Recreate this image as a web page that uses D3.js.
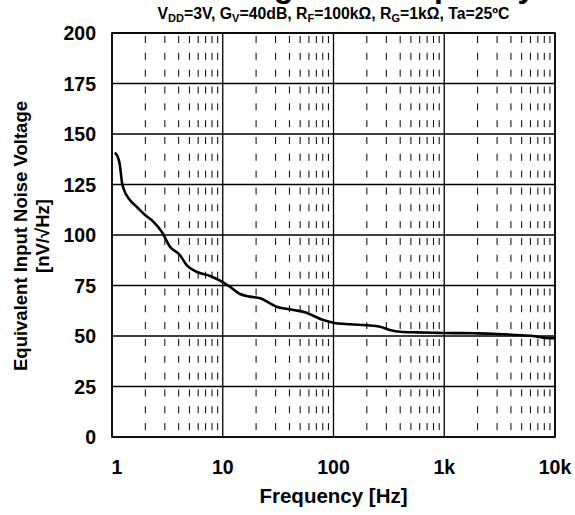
<!DOCTYPE html>
<html>
<head>
<meta charset="utf-8">
<script src="https://cdn.jsdelivr.net/npm/d3@7"></script>
<style>
body { margin: 0; background: white; }
text { font-family: "Liberation Sans", Arial, sans-serif; font-weight: bold; }
</style>
</head>
<body>
<div id="container"></div>
<script>
// curve
let freq = [1.06, 1.12, 1.17, 1.2, 1.23, 1.27, 1.45, 1.67, 1.99, 2.36, 2.81, 3.34, 4.1, 4.72, 5.8, 7.68, 9.45,
    11.6, 14.3, 17.6, 21.7, 30.7, 43.4, 55, 80.9, 100, 141, 199, 263, 324, 399, 563, 794, 1000, 1500, 2000, 2785, 4470, 6300, 7800, 10000]
let noise = [140.7, 139, 135.5, 131, 126, 123.1, 117.3, 114, 109.9, 106.6, 101.6, 94.2, 90.1, 85.1, 81.8, 79.7, 77.4,
    74.4, 70.8, 69.5, 68.7, 64.5, 62.9, 61.8, 57.9, 56.6, 55.8, 55.3, 54.6, 53, 52.1, 51.8, 51.6, 51.5, 51.4, 51.3, 51.1, 50.5, 50, 49.2, 48.9]

let xTicks = [1, 10, 100, 1000, 10000]
let xTickLabels = ["1", "10", "100", "1k", "10k"]
let yTicks = [0, 25, 50, 75, 100, 125, 150, 175, 200]

let W = 575, H = 515
let plotL = 112, plotR = 555, plotT = 33, plotB = 437

let svg = d3.select("#container").append("svg")
    .attr("width", W)
    .attr("height", H)

let x = d3.scaleLog().domain([1, 10000]).range([plotL, plotR])
let y = d3.scaleLinear().domain([0, 200]).range([plotB, plotT])

// minor verticals, dashed
let minors = []
for (let d = 1; d < 10000; d *= 10) {
    for (let k = 2; k <= 9; k++) minors.push(k * d)
}
svg.append("g").selectAll("line").data(minors).enter().append("line")
    .attr("x1", d => x(d)).attr("x2", d => x(d))
    .attr("y1", plotT).attr("y2", plotB)
    .attr("stroke", "black")
    .attr("stroke-width", 1)
    .attr("stroke-dasharray", "7,9.83")
    .attr("stroke-dashoffset", -3)

// decade lines
svg.append("g").selectAll("line").data(xTicks).enter().append("line")
    .attr("x1", d => x(d)).attr("x2", d => x(d))
    .attr("y1", plotT).attr("y2", plotB)
    .attr("stroke", "black")
    .attr("stroke-width", 1.3)

// horizontal grid
svg.append("g").selectAll("line").data(yTicks).enter().append("line")
    .attr("x1", plotL).attr("x2", plotR)
    .attr("y1", d => y(d)).attr("y2", d => y(d))
    .attr("stroke", "black")
    .attr("stroke-width", 1.3)

svg.append("rect")
    .attr("x", plotL).attr("y", plotT)
    .attr("width", plotR - plotL).attr("height", plotB - plotT)
    .attr("fill", "none")
    .attr("stroke", "black")
    .attr("stroke-width", 1.6)

// curve
let line = d3.line()
    .x((d, i) => x(freq[i]))
    .y(d => y(d))
    .curve(d3.curveMonotoneX)
svg.append("path")
    .attr("d", line(noise))
    .attr("fill", "none")
    .attr("stroke", "black")
    .attr("stroke-width", 2.6)

// tick labels
svg.append("g").selectAll("text").data(yTicks).enter().append("text")
    .attr("x", 96)
    .attr("y", d => y(d))
    .attr("dy", "0.36em")
    .attr("text-anchor", "end")
    .attr("font-size", 19.5)
    .text(d => d)

svg.append("g").selectAll("text").data(xTicks).enter().append("text")
    .attr("x", (d, i) => x(d) + (i == 0 ? 5 : 0))
    .attr("y", 474)
    .attr("text-anchor", "middle")
    .attr("font-size", 19.5)
    .text((d, i) => xTickLabels[i])

svg.append("text")
    .attr("x", (plotL + plotR) / 2)
    .attr("y", 503)
    .attr("text-anchor", "middle")
    .attr("font-size", 20.5)
    .text("Frequency [Hz]")

let yTitle = svg.append("text")
    .attr("transform", "translate(27,236) rotate(-90)")
    .attr("text-anchor", "middle")
    .attr("font-size", 18.5)
yTitle.append("tspan").attr("x", 0).attr("y", 0).text("Equivalent Input Noise Voltage")
yTitle.append("tspan").attr("x", 0).attr("y", 22).text("[nV/√Hz]")

// title, mostly cut off at the top
svg.append("text")
    .attr("x", 102)
    .attr("y", -3)
    .attr("font-size", 32)
    .text("Noise Voltage vs. Frequency")

let sub = svg.append("text")
    .attr("x", (plotL + plotR) / 2)
    .attr("y", 19)
    .attr("text-anchor", "middle")
    .attr("font-size", 15.8)
sub.append("tspan").text("V")
sub.append("tspan").attr("font-size", 11).attr("dy", 3).text("DD")
sub.append("tspan").attr("dy", -3).text("=3V, G")
sub.append("tspan").attr("font-size", 11).attr("dy", 3).text("V")
sub.append("tspan").attr("dy", -3).text("=40dB, R")
sub.append("tspan").attr("font-size", 11).attr("dy", 3).text("F")
sub.append("tspan").attr("dy", -3).text("=100kΩ, R")
sub.append("tspan").attr("font-size", 11).attr("dy", 3).text("G")
sub.append("tspan").attr("dy", -3).text("=1kΩ, Ta=25ºC")
</script>
</body>
</html>
